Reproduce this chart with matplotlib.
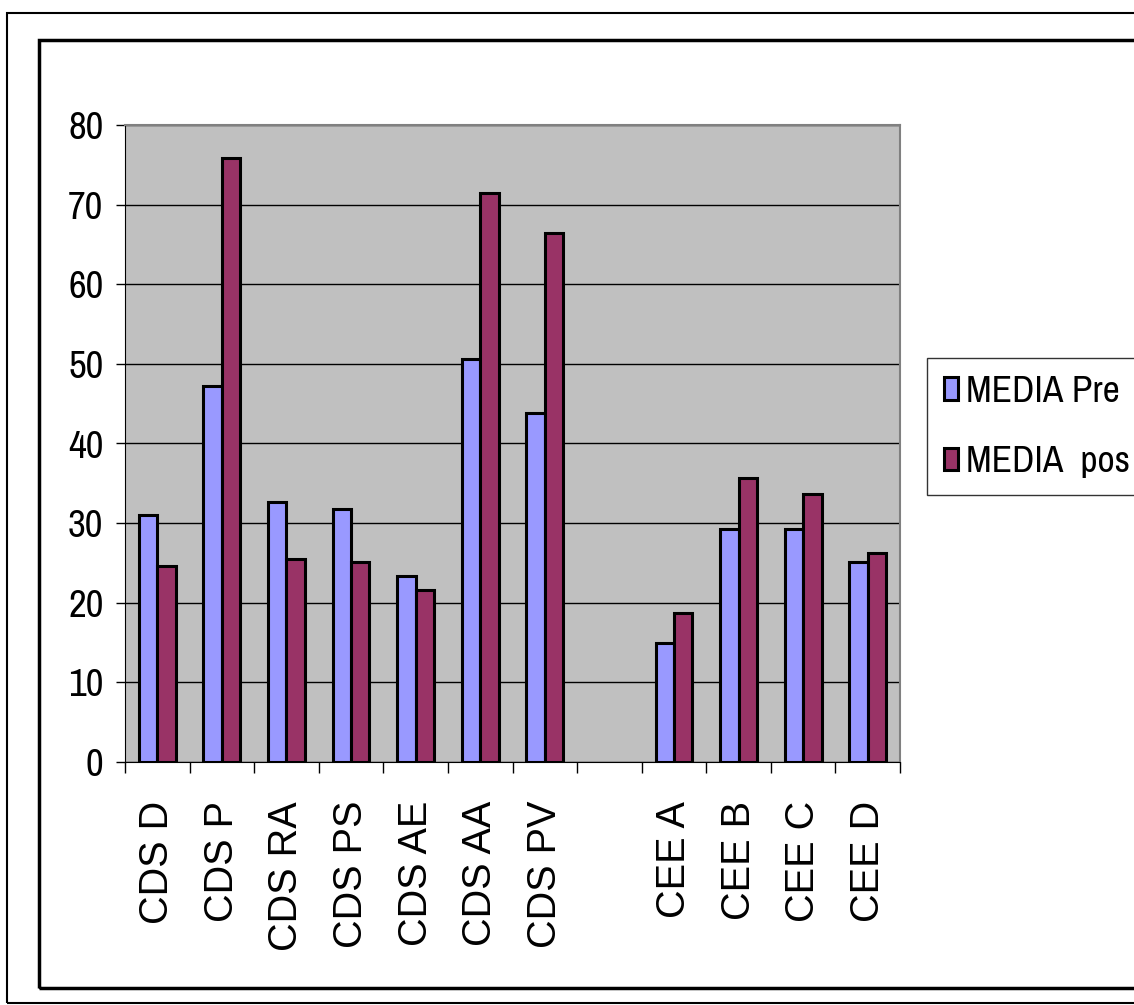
import numpy as np
import matplotlib
matplotlib.use("Agg")
from matplotlib import pyplot as plt
from matplotlib import font_manager
from matplotlib.patches import Rectangle

categories = ['CDS D', 'CDS P', 'CDS RA', 'CDS PS', 'CDS AE', 'CDS AA', 'CDS PV',
              '', 'CEE A', 'CEE B', 'CEE C', 'CEE D']
media_pre = [31.0, 47.2, 32.7, 31.8, 23.3, 50.6, 43.8, np.nan, 14.9, 29.3, 29.3, 25.1]
media_pos = [24.6, 75.8, 25.5, 25.1, 21.6, 71.4, 66.4, np.nan, 18.7, 35.7, 33.6, 26.3]
series_names = ['MEDIA Pre', 'MEDIA  pos']
yticks = [0, 10, 20, 30, 40, 50, 60, 70, 80]

# the original uses a condensed Arial for numbers and legend; use one if present
names = sorted({f.name for f in font_manager.fontManager.ttflist})
cond = [n for n in names if 'Narrow' in n or 'Condensed' in n]
if cond:
    narrow = [cond[0], 'Liberation Sans', 'DejaVu Sans']
    ysize, legsize = 28, 27
else:
    narrow = ['Liberation Sans', 'DejaVu Sans']
    ysize, legsize = 26, 21.5
wide = ['Liberation Sans', 'DejaVu Sans']

W, H = 1134, 1005
fig = plt.figure(figsize=(W / 100, H / 100), dpi=100)
fig.patch.set_facecolor('white')

# frames around the chart
fig.patches.append(Rectangle((7 / W, 1 - 1003 / H), 1.2, (1003 - 13) / H,
                             transform=fig.transFigure, fill=False,
                             edgecolor='black', lw=1.5))
fig.patches.append(Rectangle((39 / W, 1 - 988 / H), 1.2, (988 - 40) / H,
                             transform=fig.transFigure, fill=False,
                             edgecolor='black', lw=2.5))

ax = fig.add_axes([125 / W, 1 - 762 / H, (900 - 125) / W, (762 - 125) / H])
ax.set_facecolor('#C0C0C0')

x = np.arange(len(categories)) + 0.5
w = 1 / 3.5
ax.bar(x - w / 2, media_pre, w, color='#9999FF', edgecolor='black', lw=2.2,
       label=series_names[0], zorder=3)
ax.bar(x + w / 2, media_pos, w, color='#993366', edgecolor='black', lw=2.2,
       label=series_names[1], zorder=3)

ax.set_xlim(0, len(categories))
ax.set_ylim(0, 80)
ax.set_yticks(yticks)
ax.set_yticklabels([str(t) for t in yticks], family=narrow, fontsize=ysize)
ax.yaxis.grid(True, color='black', lw=1, zorder=1)
ax.set_axisbelow(True)
ax.tick_params(axis='y', length=6.5, width=1, pad=9, direction='out')

ax.set_xticks(x)
ax.set_xticklabels(categories, rotation=90, family=wide, fontsize=28.5)
ax.tick_params(axis='x', which='major', length=0, pad=28)
ax.set_xticks(np.arange(len(categories) + 1), minor=True)
ax.tick_params(axis='x', which='minor', length=8, width=1, color='black')

ax.spines['left'].set_color('black')
ax.spines['bottom'].set_color('black')
for s in ['top', 'right']:
    ax.spines[s].set_color('#808080')
    ax.spines[s].set_linewidth(1.5)

leg = fig.legend(loc='upper left', bbox_to_anchor=(927 / W, 1 - 358 / H),
                 borderaxespad=0, prop={'family': narrow, 'size': legsize},
                 frameon=True, fancybox=False, handlelength=0.38,
                 handleheight=0.55, handletextpad=0.22, labelspacing=1.0,
                 borderpad=0.45)
leg.get_frame().set_edgecolor('black')
leg.get_frame().set_linewidth(1)

fig.savefig('out.png', dpi=100)
